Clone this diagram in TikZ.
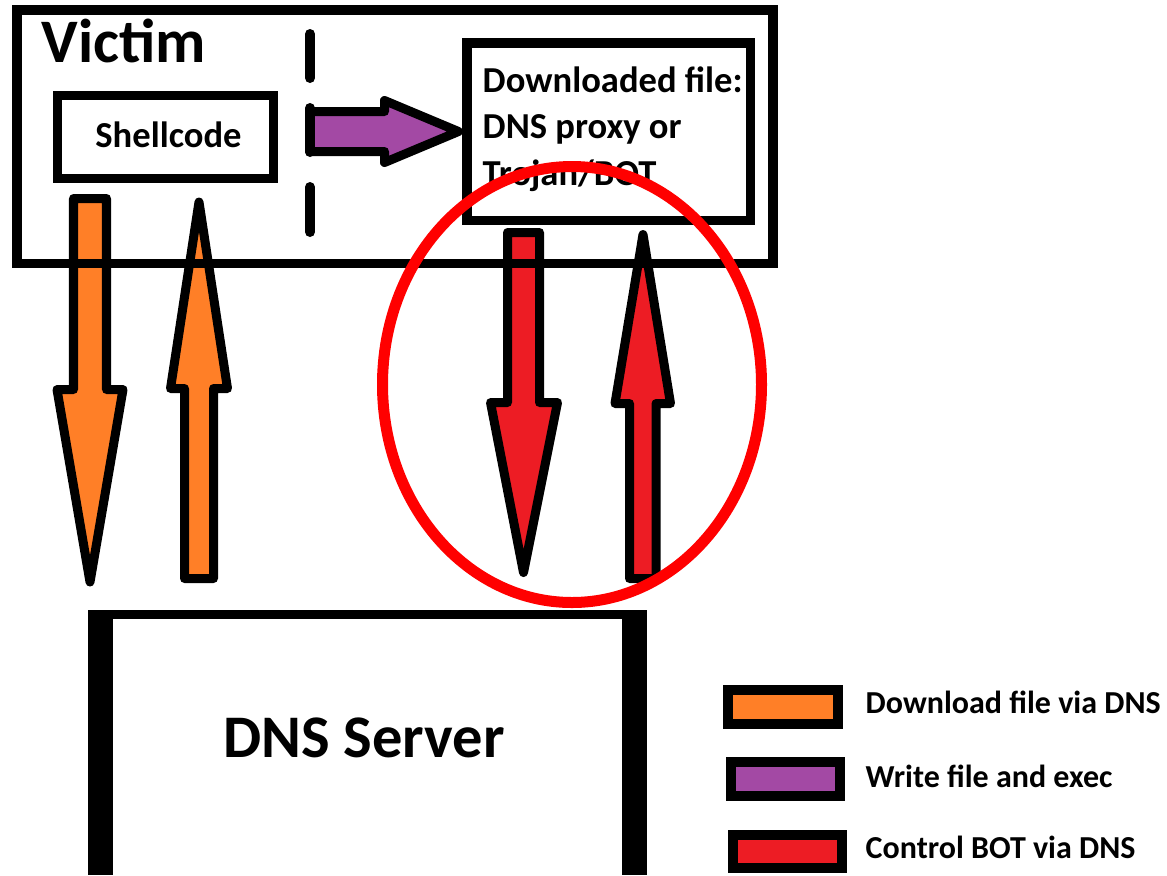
\documentclass[tikz,border=0pt]{standalone}
\usepackage{fontspec}
\setmainfont{Carlito}
\definecolor{paintorange}{HTML}{FF7F27}
\definecolor{paintpurple}{HTML}{A349A4}
\definecolor{paintred}{HTML}{ED1C24}
\definecolor{ringred}{HTML}{FF0000}

\begin{document}
\begin{tikzpicture}[x=0.01cm, y=-0.01cm,
    frame/.style={draw=black, line width=0.095cm},
    blockarrow/.style={draw=black, line width=0.09cm, line join=round},
    legendbox/.style={draw=black, line width=0.1cm},
    lbl/.style={inner sep=0pt, font=\bfseries}]
    \useasboundingbox (0,0) rectangle (1167,875);

    % Orange arrows: download file via DNS
    \filldraw[blockarrow, fill=paintorange] (73.5,198.5) -- (106.5,198.5) -- (106.5,389.5) -- (123,389.5)
        -- (90,582) -- (57,389.5) -- (73.5,389.5) -- cycle;
    \filldraw[blockarrow, fill=paintorange] (184.5,578.5) -- (184.5,388.5) -- (170.5,388.5) -- (199,202)
        -- (227.5,388.5) -- (213.5,388.5) -- (213.5,578.5) -- cycle;

    % Red arrows: control BOT via DNS
    \filldraw[blockarrow, fill=paintred] (507.5,232.5) -- (539.5,232.5) -- (539.5,402.5) -- (557.5,402.5)
        -- (523.5,572.5) -- (490.5,402.5) -- (507.5,402.5) -- cycle;
    \filldraw[blockarrow, fill=paintred] (629.5,578.5) -- (629.5,403.5) -- (615,403.5) -- (643,234.5)
        -- (670.5,403.5) -- (656,403.5) -- (656,578.5) -- cycle;

    % Victim
    \draw[frame] (17,10) rectangle (773,263.5);
    \node[lbl, anchor=base west, font=\bfseries\fontsize{17.6}{20}\selectfont] (victim) at (41,62) {Victim};
    \draw[frame, line width=0.09cm] (57.5,95.5) rectangle (273.5,178);
    \node[lbl, anchor=base, font=\bfseries\fontsize{10.4}{12}\selectfont] (shellcode) at (168.5,147) {Shellcode};
    \draw[frame] (467,43) rectangle (750.5,220.5);
    \node[lbl, anchor=north west, align=left, font=\bfseries\fontsize{10.4}{13.2}\selectfont] (dlfile) at (482,66)
        {Downloaded file:\\DNS proxy or\\Trojan/BOT};

    % Purple arrow: write file and exec
    \filldraw[blockarrow, fill=paintpurple] (309.5,111.5) -- (384.5,111.5) -- (384.5,100.5) -- (458.5,131.5)
        -- (384.5,162.5) -- (384.5,151.5) -- (309.5,151.5) -- cycle;
    \foreach \ya/\yb in {34/78, 108/152, 187/232}
        \draw[line width=0.1cm, line cap=round] (310,\ya) -- (310,\yb);

    % Red ring round the BOT traffic
    \draw[ringred, line width=0.11cm] (572,384.5) ellipse (189.5 and 218);

    % DNS Server
    \fill[black] (88,610) rectangle (647,875);
    \fill[white] (113,619) rectangle (622,875);
    \node[lbl, anchor=base, font=\bfseries\fontsize{17.2}{20}\selectfont] (dns) at (364,757.5) {DNS Server};

    % Legend
    \filldraw[legendbox, fill=paintorange] (728,690) rectangle (838,724);
    \filldraw[legendbox, fill=paintpurple] (731,762) rectangle (840,796);
    \filldraw[legendbox, fill=paintred]    (733,835) rectangle (842,868);
    \node[lbl, anchor=base west, font=\bfseries\fontsize{9.1}{10}\selectfont] (keydl)   at (865,713) {Download file via DNS};
    \node[lbl, anchor=base west, font=\bfseries\fontsize{9.1}{10}\selectfont] (keyexec) at (865,787) {Write file and exec};
    \node[lbl, anchor=base west, font=\bfseries\fontsize{9.1}{10}\selectfont] (keybot)  at (865,858) {Control BOT via DNS};
\end{tikzpicture}
\end{document}
